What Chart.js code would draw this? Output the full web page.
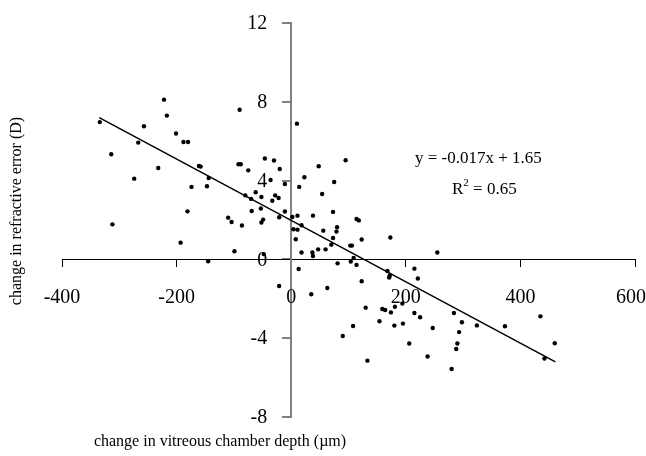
<!DOCTYPE html>
<html>
<head>
<meta charset="UTF-8" />
<title>vitreous chamber vs refractive error</title>
<script src="https://cdn.jsdelivr.net/npm/chart.js"></script>
<style>
    body { margin: 0; background: #fff; }
    canvas { display: block; }
</style>
</head>
<body>
<canvas id="scatterChart" width="646" height="456"></canvas>
<script>
    // change in vitreous chamber depth (um)
    const vcdChange = [
        -334, -222, -217, -257, -201, -188, -180, -267, -314, -232,
        -274, -161, -158, -144, -174, -147, -181, -312, -193, -145,
        -90, -92, -88, -75, -46, -30, -20, -36, -11, -80,
        -62, -70, -52, -28, -22, -33, -69, -53, -11, -110,
        -104, -86, -49, -52, -21, -99, -48,
        10, 14, 23, 48, 95, 75, 54, 73, 38, 2,
        11, 114, 118, 4, 11, 18, 56, 80, 79, 73,
        123, 70, 103, 106, 8, 18, 37, 38, 47, 60,
        81, 109, 104, 114, 13, -21, 35, 63, 123,
        173, 255, 168, 172, 171, 215, 221, 130, 159, 164,
        181, 174, 194, 215, 225, 154, 180, 195, 108, 90,
        247, 284, 298, 293, 290, 288, 206, 238, 133, 280,
        324, 373, 435, 460, 442
    ];
    // change in refractive error (D)
    const refChange = [
        6.97, 8.11, 7.30, 6.76, 6.39, 5.96, 5.96, 5.93, 5.34, 4.64,
        4.10, 4.74, 4.71, 4.13, 3.68, 3.71, 2.44, 1.78, 0.85, -0.10,
        7.60, 4.83, 4.83, 4.52, 5.12, 5.02, 4.59, 4.03, 3.83, 3.25,
        3.41, 3.07, 3.17, 3.25, 3.12, 2.98, 2.46, 2.58, 2.43, 2.12,
        1.90, 1.72, 2.02, 1.87, 2.14, 0.41, 0.27,
        6.89, 3.68, 4.17, 4.73, 5.03, 3.93, 3.32, 2.41, 2.22, 2.15,
        2.22, 2.05, 1.98, 1.53, 1.51, 1.73, 1.46, 1.63, 1.41, 1.09,
        1.01, 0.75, 0.70, 0.70, 1.02, 0.35, 0.35, 0.17, 0.51, 0.51,
        -0.20, 0.07, -0.11, -0.28, -0.49, -1.35, -1.77, -1.45, -1.11,
        1.11, 0.35, -0.59, -0.82, -0.92, -0.47, -0.97, -2.45, -2.52, -2.57,
        -2.40, -2.69, -2.24, -2.72, -2.94, -3.14, -3.36, -3.26, -3.38, -3.89,
        -3.48, -2.72, -3.19, -3.69, -4.27, -4.55, -4.27, -4.93, -5.14, -5.56,
        -3.35, -3.39, -2.89, -4.26, -5.03
    ];
    // ends of the drawn trend line
    const trendX = [-335, 461];
    const trendY = [7.2, -5.2];

    const xTicks = [-400, -200, 0, 200, 400, 600];
    const yTicks = [-8, -4, 0, 4, 8, 12];

    const points = vcdChange.map((v, i) => ({ x: v, y: refChange[i] }));
    const trend = trendX.map((v, i) => ({ x: v, y: trendY[i] }));

    const serif = '"Liberation Serif", "DejaVu Serif", serif';

    // tick labels, axis titles and the equation
    const textPlugin = {
        id: 'textPlugin',
        afterDraw(chart) {
            const ctx = chart.ctx;
            const xs = chart.scales.x, ys = chart.scales.y;
            ctx.save();
            ctx.fillStyle = '#000';

            ctx.font = '20px ' + serif;
            ctx.textBaseline = 'middle';
            const axisX = xs.getPixelForValue(0);
            ctx.textAlign = 'right';
            yTicks.forEach(v => {
                ctx.fillText(String(v), axisX - 24, ys.getPixelForValue(v) + 1);
            });
            ctx.textAlign = 'center';
            const axisY = ys.getPixelForValue(0);
            xTicks.forEach(v => {
                const label = String(v);
                const half = ctx.measureText(label).width / 2;
                const px = Math.min(xs.getPixelForValue(v), chart.width - half);
                ctx.fillText(label, px, axisY + 38);
            });

            ctx.font = '16px ' + serif;
            ctx.fillText('change in vitreous chamber depth (\u00b5m)', 220, 442);

            ctx.save();
            ctx.translate(17, 211);
            ctx.rotate(-Math.PI / 2);
            ctx.fillText('change in refractive error (D)', 0, 0);
            ctx.restore();

            ctx.font = '17px ' + serif;
            ctx.textAlign = 'left';
            ctx.textBaseline = 'alphabetic';
            ctx.fillText('y = -0.017x + 1.65', 415, 163);
            ctx.fillText('R', 452, 194);
            const rw = ctx.measureText('R').width;
            ctx.font = '11px ' + serif;
            ctx.fillText('2', 452 + rw, 186);
            const sw = ctx.measureText('2').width;
            ctx.font = '17px ' + serif;
            ctx.fillText(' = 0.65', 452 + rw + sw, 194);
            ctx.restore();
        }
    };

    new Chart(document.getElementById('scatterChart'), {
        type: 'scatter',
        data: {
            datasets: [
                {
                    label: 'data',
                    data: points,
                    backgroundColor: '#000',
                    borderColor: '#000',
                    pointRadius: 2.2,
                    pointHoverRadius: 2.2,
                    borderWidth: 0
                },
                {
                    label: 'trend',
                    type: 'line',
                    data: trend,
                    borderColor: '#000',
                    borderWidth: 1.5,
                    pointRadius: 0,
                    fill: false
                }
            ]
        },
        options: {
            responsive: false,
            animation: false,
            layout: { padding: { left: 62, right: 11, top: 23, bottom: 39 } },
            plugins: {
                legend: { display: false },
                tooltip: { enabled: false }
            },
            scales: {
                x: {
                    type: 'linear',
                    min: -400,
                    max: 600,
                    position: { y: 0 },
                    afterBuildTicks: axis => { axis.ticks = xTicks.map(v => ({ value: v })); },
                    afterFit: axis => { axis.height = 0; axis.paddingLeft = 0; axis.paddingRight = 0; },
                    ticks: { display: false },
                    grid: { drawOnChartArea: false, drawTicks: true, tickLength: 7, color: '#000', lineWidth: 1 },
                    border: { color: '#000', width: 1 }
                },
                y: {
                    type: 'linear',
                    min: -8,
                    max: 12,
                    position: { x: 0 },
                    afterBuildTicks: axis => { axis.ticks = yTicks.map(v => ({ value: v })); },
                    afterFit: axis => { axis.width = 0; axis.paddingTop = 0; axis.paddingBottom = 0; },
                    ticks: { display: false },
                    grid: { drawOnChartArea: false, drawTicks: true, tickLength: 8, color: '#808080', lineWidth: 2 },
                    border: { color: '#808080', width: 2 }
                }
            }
        },
        plugins: [textPlugin]
    });
</script>
</body>
</html>
